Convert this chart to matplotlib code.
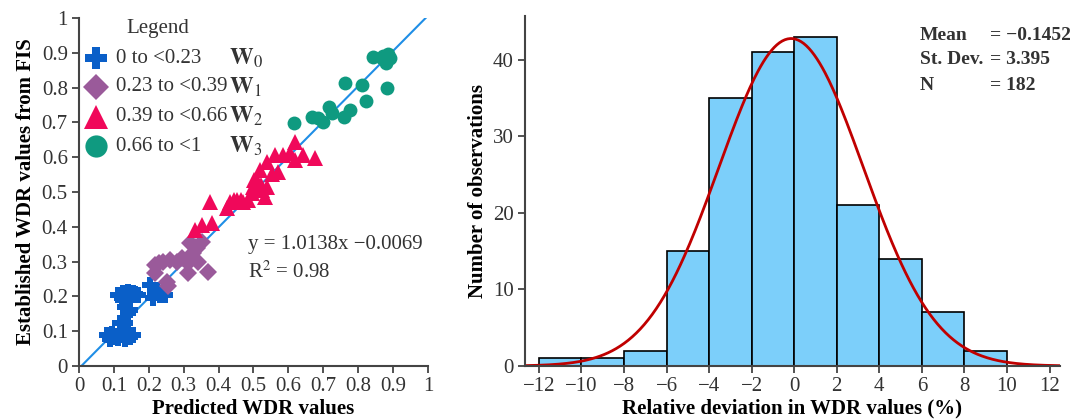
import numpy as np
import matplotlib
matplotlib.use("Agg")
import matplotlib.pyplot as plt

# scatter data
w0_x = [0.079, 0.089, 0.100, 0.113, 0.123, 0.132, 0.146, 0.156, 0.094, 0.108, 0.140,
        0.117, 0.132, 0.141, 0.146, 0.113, 0.127, 0.141, 0.156, 0.170, 0.122, 0.146,
        0.132, 0.203, 0.218, 0.232, 0.223, 0.213, 0.242, 0.160, 0.118, 0.247]
w0_y = [0.089, 0.079, 0.082, 0.080, 0.089, 0.077, 0.084, 0.089, 0.093, 0.085, 0.094,
        0.123, 0.123, 0.151, 0.160, 0.204, 0.209, 0.214, 0.209, 0.204, 0.195, 0.190,
        0.170, 0.233, 0.209, 0.204, 0.219, 0.195, 0.209, 0.208, 0.203, 0.203]
w1_x = [0.218, 0.218, 0.242, 0.261, 0.280, 0.294, 0.313, 0.313, 0.342, 0.371, 0.318,
        0.332, 0.352, 0.251, 0.255, 0.328, 0.228, 0.338]
w1_y = [0.290, 0.266, 0.300, 0.305, 0.300, 0.309, 0.295, 0.266, 0.300, 0.271, 0.353,
        0.343, 0.357, 0.242, 0.230, 0.324, 0.295, 0.338]
w2_x = [0.375, 0.352, 0.380, 0.332, 0.423, 0.433, 0.452, 0.471, 0.485, 0.495, 0.500,
        0.514, 0.523, 0.533, 0.538, 0.519, 0.538, 0.552, 0.571, 0.562, 0.585, 0.605,
        0.619, 0.643, 0.676, 0.619, 0.502, 0.521, 0.444, 0.463]
w2_y = [0.472, 0.405, 0.410, 0.391, 0.453, 0.472, 0.477, 0.472, 0.477, 0.496, 0.515,
        0.525, 0.506, 0.487, 0.515, 0.563, 0.587, 0.553, 0.558, 0.606, 0.606, 0.611,
        0.592, 0.606, 0.597, 0.645, 0.535, 0.520, 0.477, 0.477]
w3_x = [0.616, 0.667, 0.686, 0.700, 0.717, 0.724, 0.759, 0.776, 0.763, 0.810, 0.822,
        0.882, 0.843, 0.867, 0.880, 0.886, 0.890, 0.872]
w3_y = [0.697, 0.716, 0.714, 0.702, 0.745, 0.726, 0.715, 0.736, 0.812, 0.807, 0.762,
        0.798, 0.889, 0.884, 0.870, 0.898, 0.885, 0.890]

class_labels = ["0 to <0.23", "0.23 to <0.39", "0.39 to <0.66", "0.66 to <1"]
class_names = [r"$\mathbf{W}_0$", r"$\mathbf{W}_1$", r"$\mathbf{W}_2$", r"$\mathbf{W}_3$"]

fit_slope = 1.0138
fit_intercept = -0.0069
r_squared = 0.98

# histogram of relative deviation
bin_edges = [-12, -10, -8, -6, -4, -2, 0, 2, 4, 6, 8, 10]
counts = [1, 1, 2, 15, 35, 41, 43, 21, 14, 7, 2]
dev_mean = -0.1452
dev_std = 3.395
n_obs = 182

plt.rcParams["font.family"] = ["Liberation Serif", "DejaVu Serif"]
plt.rcParams["mathtext.fontset"] = "stix"
plt.rcParams["axes.unicode_minus"] = True

fig = plt.figure(figsize=(10.7, 4.19), dpi=100)
ax1 = fig.add_axes([0.0738, 0.1265, 0.3262, 0.8305])
ax2 = fig.add_axes([0.4907, 0.1265, 0.4995, 0.835])

spine_col = "#444444"
text_col = "#333333"
tick_size = 15

# ---- left panel ----
blue, purple, red, green = "#0a5fc8", "#9a5a9a", "#f0085a", "#0f9a80"
ax1.plot(w0_x, w0_y, "P", color=blue, ms=11.5, mew=0, ls="none")
ax1.plot(w1_x, w1_y, "D", color=purple, ms=9.5, mew=0, ls="none")
ax1.plot(w2_x, w2_y, "^", color=red, ms=11, mew=0, ls="none")
ax1.plot(w3_x, w3_y, "o", color=green, ms=10, mew=0, ls="none")

fx = np.array([0.007, 0.993])
ax1.plot(fx, fit_slope * fx + fit_intercept, color="#1f8ee6", lw=1.5, zorder=1)

ax1.set_xlim(0, 1)
ax1.set_ylim(0, 1)
ticks = np.round(np.arange(0, 1.01, 0.1), 1)
tick_text = ["0"] + [f"{t:.1f}" for t in ticks[1:-1]] + ["1"]
ax1.set_xticks(ticks)
ax1.set_xticklabels(tick_text)
ax1.set_yticks(ticks)
ax1.set_yticklabels(tick_text)
ax1.set_xlabel("Predicted WDR values", fontsize=15, fontweight="bold", labelpad=2)
ax1.set_ylabel("Established WDR values from FIS", fontsize=15, fontweight="bold", labelpad=4)

ax1.text(0.484, 0.348, f"y = {fit_slope}x \u2212{abs(fit_intercept)}", fontsize=15,
         va="center", color=text_col)
ax1.text(0.484, 0.27, f"R$^2$ = {r_squared}", fontsize=15, va="center", color=text_col)

# hand-made legend
ax1.text(0.135, 0.97, "Legend", transform=ax1.transAxes, fontsize=15, va="center",
         color=text_col)
legend_rows = [0.885, 0.802, 0.716, 0.632]
legend_marks = [("P", blue, 16), ("D", purple, 13), ("^", red, 17), ("o", green, 16)]
for row, (mk, col, size), lab, name in zip(legend_rows, legend_marks, class_labels, class_names):
    ax1.plot([0.049], [row], mk, color=col, ms=size, mew=0, transform=ax1.transAxes,
             clip_on=False)
    ax1.text(0.105, row, lab, transform=ax1.transAxes, fontsize=15, va="center",
             color=text_col)
    ax1.text(0.43, row, name, transform=ax1.transAxes, fontsize=17, va="center",
             color=text_col)

# ---- right panel ----
ax2.hist(bin_edges[:-1], bins=bin_edges, weights=counts, color="#7ccffa",
         edgecolor="black", linewidth=1.2)
xs = np.linspace(-12.65, 12.47, 400)
width = bin_edges[1] - bin_edges[0]
curve = n_obs * width / (dev_std * np.sqrt(2 * np.pi)) * np.exp(-0.5 * ((xs - dev_mean) / dev_std) ** 2)
ax2.plot(xs, curve, color="#c00000", lw=2)
ax2.set_xlim(-12.65, 12.47)
ax2.set_ylim(0, 45.7)
ax2.set_xticks(range(-12, 13, 2))
ax2.set_yticks([0, 10, 20, 30, 40])
ax2.set_xlabel("Relative deviation in WDR values (%)", fontsize=15, fontweight="bold", labelpad=2)
ax2.set_ylabel("Number of observations", fontsize=15, fontweight="bold", labelpad=4)

stat_rows = [("Mean", f"= \u2212{abs(dev_mean)}"), ("St. Dev.", f"= {dev_std}"),
             ("N", f"= {n_obs}")]
for i, (k, v) in enumerate(stat_rows):
    y = 1 - (35 + 25 * i) / 419
    fig.text(920 / 1070, y, k, fontsize=14, fontweight="bold", va="center", color=text_col)
    fig.text(990 / 1070, y, v, fontsize=14, fontweight="bold", va="center", color=text_col)

for ax in (ax1, ax2):
    for s in ("top", "right"):
        ax.spines[s].set_visible(False)
    for s in ("left", "bottom"):
        ax.spines[s].set_color(spine_col)
        ax.spines[s].set_linewidth(1.5)
    ax.tick_params(direction="out", length=5, width=1.3, color=spine_col,
                   labelsize=tick_size, labelcolor=text_col, pad=3)

fig.savefig("out.png", dpi=100)
